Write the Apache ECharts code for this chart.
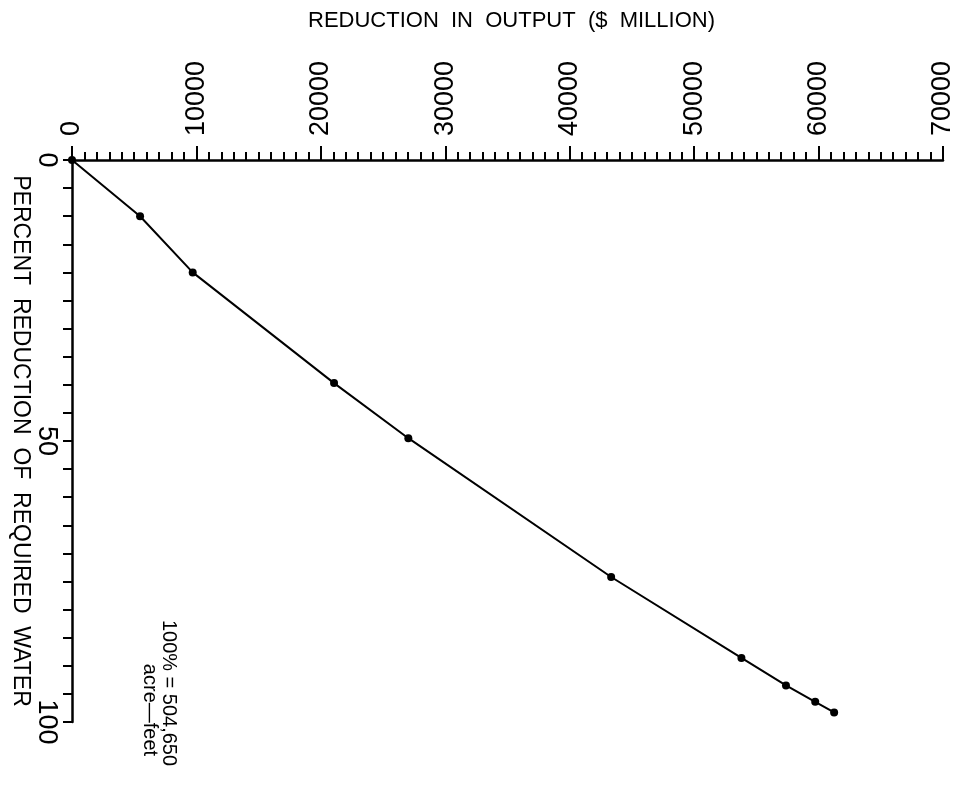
<!DOCTYPE html>
<html>
<head>
<meta charset="utf-8">
<script src="https://cdn.jsdelivr.net/npm/echarts@6/dist/echarts.min.js"></script>
<style>
html,body{margin:0;padding:0;background:#fff;}
#chart{width:959px;height:786px;}
</style>
</head>
<body>
<div id="chart"></div>
<script>
// Reduction in output ($ million) vs percent reduction of required water
const outputReduction = [0, 5470, 9700, 21060, 27030, 43330, 53800, 57380, 59730, 61250];
const waterReduction  = [0, 10.0, 20.0, 39.7, 49.5, 74.2, 88.6, 93.5, 96.4, 98.3];
const xTitle = 'REDUCTION  IN  OUTPUT  ($  MILLION)';
const yTitle = 'PERCENT  REDUCTION  OF  REQUIRED  WATER';
const noteLine1 = '100% = 504,650';
const noteLine2 = 'acre\u2014feet';

const FONT = '"Liberation Sans", Arial, sans-serif';
const chart = echarts.init(document.getElementById('chart'));
const points = outputReduction.map((v, i) => [v, waterReduction[i]]);

chart.setOption({
  backgroundColor: '#fff',
  animation: false,
  grid: { left: 72, top: 160, right: 16, bottom: 64, containLabel: false, outerBoundsMode: 'none' },
  xAxis: {
    type: 'value', position: 'top', min: 0, max: 70000, interval: 10000,
    name: xTitle, nameLocation: 'middle', nameGap: 128, nameMoveOverlap: false,
    nameTextStyle: { fontFamily: FONT, fontSize: 22, color: '#000', padding: [0, 0, 0, 8] },
    axisLine: { onZero: false, lineStyle: { color: '#000', width: 2.5 } },
    axisTick: { show: true, length: 14, lineStyle: { color: '#000', width: 2 } },
    minorTick: { show: true, splitNumber: 10, length: 8, lineStyle: { color: '#000', width: 2 } },
    splitLine: { show: false },
    axisLabel: { rotate: -90, margin: 24, fontFamily: FONT, fontSize: 27, color: '#000',
      formatter: v => String(v) }
  },
  yAxis: {
    type: 'value', inverse: true, min: 0, max: 100, interval: 50,
    name: yTitle, nameLocation: 'middle', nameGap: 40, nameRotate: -90, nameMoveOverlap: false,
    nameTextStyle: { fontFamily: FONT, fontSize: 23, color: '#000' },
    axisLine: { show: true, onZero: false, lineStyle: { color: '#000', width: 2.5 } },
    axisTick: { show: true, length: 9, lineStyle: { color: '#000', width: 2 } },
    minorTick: { show: true, splitNumber: 10, length: 9, lineStyle: { color: '#000', width: 2 } },
    splitLine: { show: false },
    axisLabel: { rotate: -90, margin: 12, fontFamily: FONT, fontSize: 27, color: '#000' }
  },
  series: [{
    type: 'line',
    data: points,
    symbol: 'circle', symbolSize: 8,
    itemStyle: { color: '#000' },
    lineStyle: { color: '#000', width: 2 }
  }],
  graphic: [
    { type: 'text', x: 159, y: 693, rotation: -Math.PI / 2,
      style: { text: noteLine1, fontFamily: FONT, fontSize: 20, fill: '#000', align: 'center', verticalAlign: 'bottom' } },
    { type: 'text', x: 140, y: 710, rotation: -Math.PI / 2,
      style: { text: noteLine2, fontFamily: FONT, fontSize: 20, fill: '#000', align: 'center', verticalAlign: 'bottom' } }
  ]
});
</script>
</body>
</html>
